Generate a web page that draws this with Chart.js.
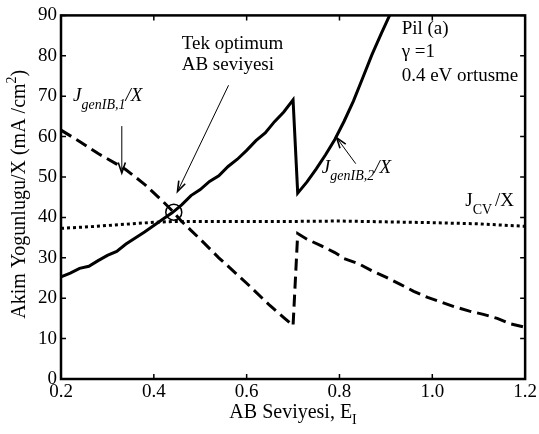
<!DOCTYPE html>
<html>
<head>
<meta charset="utf-8">
<script src="https://cdn.jsdelivr.net/npm/chart.js"></script>
</head>
<body style="margin:0;padding:0;background:#fff">
<canvas id="canvas" width="539" height="434"></canvas>
<script>
// values
const xTicks = [0.2, 0.4, 0.6, 0.8, 1, 1.2];
const yTicks = [0, 10, 20, 30, 40, 50, 60, 70, 80, 90];

const genIB2X = [0.20,0.22,0.24,0.26,0.28,0.30,0.32,0.34,0.36,0.38,0.40,0.42,0.44,0.46,0.48,0.50,0.52,0.54,0.56,0.58,0.60,0.62,0.64,0.66,0.68,0.70,0.71,0.73,0.75,0.77,0.79,0.81,0.83,0.85,0.87,0.89,0.91,0.93];
const genIB2Y = [25.3,26.2,27.4,27.9,29.3,30.6,31.6,33.4,34.9,36.4,38.0,39.6,41.2,43.1,45.4,46.9,48.9,50.3,52.6,54.4,56.6,59.0,60.9,63.7,66.1,69.1,46.0,48.8,52.0,55.5,59.3,63.8,68.8,74.5,80.3,85.5,90.5,96.0];

const genIB1X = [0.20,0.24,0.28,0.32,0.34,0.38,0.42,0.44,0.46,0.48,0.50,0.54,0.58,0.60,0.62,0.65,0.68,0.70,0.71,0.73,0.76,0.79,0.81,0.84,0.87,0.90,0.93,0.96,0.99,1.02,1.05,1.08,1.11,1.14,1.17,1.20];
const genIB1Y = [61.6,58.8,55.8,53.2,51.8,48.2,43.9,41.6,39.0,36.8,34.6,30.0,25.8,23.7,21.5,18.2,15.2,13.2,36.0,34.6,33.0,31.3,29.8,28.6,26.8,25.2,23.5,21.7,20.2,19.0,17.8,16.8,16.0,15.0,13.6,12.8];

const cvX = [0.20,0.25,0.30,0.35,0.40,0.45,0.50,0.60,0.70,0.80,0.90,1.00,1.10,1.15,1.20];
const cvY = [37.3,37.6,38.0,38.4,38.8,39.0,39.0,39.0,39.0,39.1,38.9,38.7,38.4,38.1,37.8];

const optimumX = [0.443];
const optimumY = [41.3];

const pts = (xs, ys) => xs.map((x, i) => ({x: x, y: ys[i]}));
const FONT = '"Liberation Serif", "Times New Roman", serif';

function rich(ctx, parts, x, y) {
    let cx = x;
    for (const p of parts) {
        ctx.font = `${p.it ? 'italic ' : ''}${p.s}px ${FONT}`;
        ctx.fillText(p.t, cx, y + (p.dy || 0));
        cx += ctx.measureText(p.t).width + (p.gap || 0);
    }
    return cx - x;
}
function richWidth(ctx, parts) {
    let w = 0;
    for (const p of parts) {
        ctx.font = `${p.it ? 'italic ' : ''}${p.s}px ${FONT}`;
        w += ctx.measureText(p.t).width + (p.gap || 0);
    }
    return w;
}
function arrow(ctx, x1, y1, x2, y2) {
    ctx.lineWidth = 1;
    ctx.beginPath(); ctx.moveTo(x1, y1); ctx.lineTo(x2, y2); ctx.stroke();
    const a = Math.atan2(y2 - y1, x2 - x1), L = 11, w = 0.33;
    ctx.lineWidth = 1.6;
    ctx.beginPath();
    ctx.moveTo(x2 - L * Math.cos(a - w), y2 - L * Math.sin(a - w));
    ctx.lineTo(x2, y2);
    ctx.lineTo(x2 - L * Math.cos(a + w), y2 - L * Math.sin(a + w));
    ctx.stroke();
}

const decor = {
    id: 'decor',
    afterDatasetsDraw(chart) {
        const ctx = chart.ctx, a = chart.chartArea;
        const X = chart.scales.x, Y = chart.scales.y;
        const px = v => X.getPixelForValue(v), py = v => Y.getPixelForValue(v);
        ctx.save();
        ctx.strokeStyle = '#000'; ctx.fillStyle = '#000';
        // box + inward ticks
        ctx.lineWidth = 2.5;
        ctx.strokeRect(a.left, a.top, a.right - a.left, a.bottom - a.top);
        ctx.lineWidth = 1.5;
        ctx.beginPath();
        for (const t of xTicks) {
            ctx.moveTo(px(t), a.bottom); ctx.lineTo(px(t), a.bottom - 5);
            ctx.moveTo(px(t), a.top); ctx.lineTo(px(t), a.top + 5);
        }
        for (const t of yTicks) {
            ctx.moveTo(a.left, py(t)); ctx.lineTo(a.left + 5, py(t));
            ctx.moveTo(a.right, py(t)); ctx.lineTo(a.right - 5, py(t));
        }
        ctx.stroke();

        ctx.textBaseline = 'middle'; ctx.textAlign = 'left';
        // in-plot notes
        ctx.font = `19px ${FONT}`;
        ctx.fillText('Tek optimum', px(0.46), py(82.9));
        ctx.fillText('AB seviyesi', px(0.46), py(77.7));
        ctx.fillText('Pil (a)', px(0.934), py(86.6));
        ctx.fillText('\u03b3 =1', px(0.934), py(80.9));
        ctx.fillText('0.4 eV ortusme', px(0.934), py(74.9));

        rich(ctx, [{t: 'J', s: 19, it: true}, {t: 'genIB,1', s: 14, it: true, dy: 9}, {t: '/X', s: 19, it: true}], px(0.226), py(70.0));
        rich(ctx, [{t: 'J', s: 19, it: true}, {t: 'genIB,2', s: 14, it: true, dy: 9}, {t: '/X', s: 19, it: true}], px(0.762), py(52.3));
        rich(ctx, [{t: 'J', s: 19}, {t: 'CV', s: 14, dy: 9, gap: 3}, {t: '/X', s: 19}], px(1.071), py(44.1));

        arrow(ctx, px(0.331), py(62.6), px(0.331), py(51.0));
        arrow(ctx, px(0.561), py(72.7), px(0.451), py(46.4));
        arrow(ctx, px(0.835), py(53.3), px(0.794), py(59.7));

        // axis titles
        const xt = [{t: 'AB Seviyesi, E', s: 20}, {t: 'I', s: 14, dy: 7}];
        rich(ctx, xt, (a.left + a.right) / 2 - richWidth(ctx, xt) / 2, 413);
        const yt = [{t: 'Akim Yogunlugu/X (mA /cm', s: 20}, {t: '2', s: 14, dy: -8}, {t: ')', s: 20}];
        ctx.translate(20, (a.top + a.bottom) / 2 - 3);
        ctx.rotate(-Math.PI / 2);
        rich(ctx, yt, -richWidth(ctx, yt) / 2, 0);
        ctx.restore();
    }
};

const tickFont = {family: FONT, size: 19};
new Chart(document.getElementById('canvas').getContext('2d'), {
    type: 'line',
    data: {
        datasets: [
            {data: pts(cvX, cvY), borderColor: '#000', borderWidth: 3, borderDash: [3, 3], pointRadius: 0, tension: 0},
            {data: pts(genIB1X, genIB1Y), borderColor: '#000', borderWidth: 3, borderDash: [12, 6], pointRadius: 0, tension: 0},
            {data: pts(genIB2X, genIB2Y), borderColor: '#000', borderWidth: 3, pointRadius: 0, tension: 0},
            {data: pts(optimumX, optimumY), showLine: false, pointStyle: 'circle', pointRadius: 8,
                pointBorderWidth: 1.5, pointBorderColor: '#000', pointBackgroundColor: 'rgba(0,0,0,0)'}
        ]
    },
    options: {
        responsive: false,
        animation: false,
        layout: {padding: {top: 14, right: 12, left: 0, bottom: 0}},
        plugins: {legend: {display: false}, tooltip: {enabled: false}},
        scales: {
            x: {
                type: 'linear', min: 0.2, max: 1.2,
                ticks: {stepSize: 0.2, font: tickFont, color: '#000', padding: 2, maxRotation: 0},
                grid: {display: false, drawTicks: false}, border: {display: false},
                afterFit: s => { s.height = 55; }
            },
            y: {
                min: 0, max: 90,
                ticks: {stepSize: 10, font: tickFont, color: '#000', padding: 4},
                grid: {display: false, drawTicks: false}, border: {display: false},
                afterFit: s => { s.width = 61; }
            }
        }
    },
    plugins: [decor]
});
</script>
</body>
</html>
